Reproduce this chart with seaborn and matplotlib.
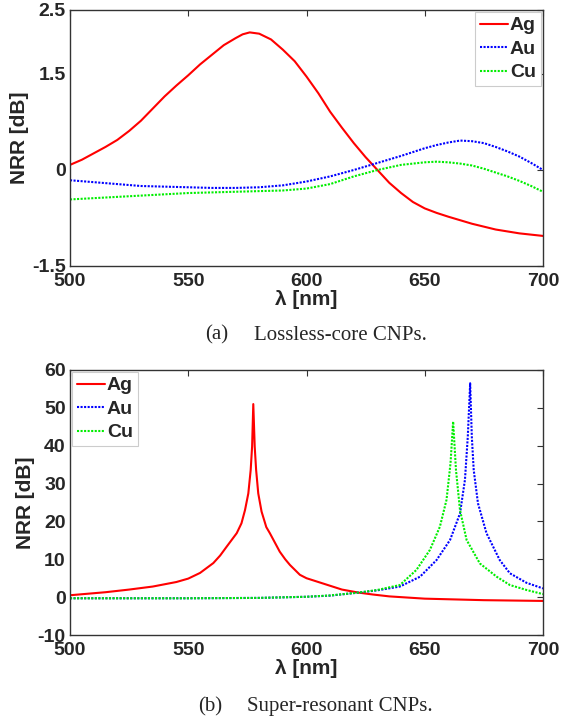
import numpy as np
import pandas as pd
import seaborn as sns
import matplotlib
matplotlib.use("Agg")
import matplotlib.pyplot as plt

# ---- (a) lossless-core CNPs ----
lam_ag_a = [500, 505, 510, 515, 520, 525, 530, 535, 540, 545, 550, 555, 560, 565,
            570, 573, 576, 580, 585, 590, 595, 600, 605, 610, 615, 620, 625, 630,
            635, 640, 645, 650, 655, 660, 670, 680, 690, 700]
ag_a = [0.08, 0.16, 0.26, 0.36, 0.47, 0.61, 0.77, 0.96, 1.15, 1.32, 1.48, 1.65,
        1.80, 1.95, 2.06, 2.12, 2.15, 2.13, 2.04, 1.88, 1.70, 1.46, 1.20, 0.91,
        0.66, 0.42, 0.20, 0.00, -0.20, -0.36, -0.50, -0.60, -0.67, -0.73, -0.84,
        -0.93, -0.99, -1.03]
lam_a = [500, 510, 520, 530, 540, 550, 560, 570, 580, 590, 600, 610, 620, 630,
         640, 650, 655, 660, 665, 670, 675, 680, 685, 690, 695, 700]
au_a = [-0.16, -0.19, -0.22, -0.25, -0.26, -0.27, -0.28, -0.28, -0.27, -0.24,
        -0.18, -0.10, 0.00, 0.11, 0.22, 0.34, 0.39, 0.43, 0.46, 0.45, 0.42, 0.36,
        0.29, 0.21, 0.11, 0.00]
cu_a = [-0.46, -0.44, -0.42, -0.40, -0.38, -0.36, -0.35, -0.34, -0.33, -0.32,
        -0.29, -0.22, -0.10, 0.00, 0.08, 0.12, 0.13, 0.12, 0.10, 0.07, 0.02,
        -0.04, -0.10, -0.17, -0.25, -0.34]

# ---- (b) super-resonant CNPs ----
lam_ag_b = [500, 515, 525, 535, 545, 550, 555, 560.6, 563.5, 566.2, 570.5, 572.5,
            574.0, 575.4, 576.4, 577.0, 577.5, 578.1, 578.7, 579.6, 581.0, 583.0,
            584.5, 588.7, 591, 593, 597.2, 600, 605, 610, 615, 622, 628, 635, 650,
            675, 700]
ag_b = [0.5, 1.3, 2.0, 2.8, 4.0, 4.9, 6.4, 9.0, 11.0, 13.3, 16.9, 19.5, 23.0,
        27.4, 33.6, 39.8, 51.0, 39.8, 33.6, 27.4, 22.6, 18.5, 16.9, 12.0, 10.0,
        8.5, 5.9, 5.0, 4.0, 3.0, 2.0, 1.2, 0.7, 0.2, -0.4, -0.8, -1.0]

lam_au_b = [500, 550, 580, 600, 610, 622, 630, 639.5, 648, 655, 660.7, 664.9,
            667.0, 668.2, 669.2, 669.9, 670.7, 672.5, 676.1, 681.7, 686, 693, 700]
au_b = [-0.3, -0.3, -0.2, 0.1, 0.4, 1.2, 1.8, 2.8, 5.4, 9.8, 15.1, 22.1, 31.0,
        42.4, 56.5, 42.4, 33.6, 24.8, 16.9, 9.8, 6.3, 3.8, 2.3]

lam_cu_b = [500, 550, 580, 600, 610, 622, 630, 639.5, 646.5, 652.2, 656.4, 659.2,
            660.9, 662.0, 663.2, 664.9, 667.7, 673.3, 680.4, 686, 693, 700]
cu_b = [-0.3, -0.3, -0.2, 0.1, 0.45, 1.2, 1.9, 3.2, 7.2, 12.5, 18.6, 25.7, 35.4,
        46.4, 33.6, 23.0, 15.1, 8.9, 5.4, 3.2, 1.9, 0.8]

metals = ["Ag", "Au", "Cu"]
colors = {"Ag": "#ff0000", "Au": "#0000ff", "Cu": "#00ee00"}
styles = {"Ag": "-", "Au": (0, (1, 0.7)), "Cu": (0, (1, 0.7))}

yticks_a = [-1.5, 0, 1.5, 2.5]
ytick_labels_a = ["-1.5", "0", "1.5", "2.5"]
yticks_b = [-10, 0, 10, 20, 30, 40, 50, 60]
xticks = [500, 550, 600, 650, 700]

sns.set_style("white")
plt.rcParams["font.family"] = ["Liberation Sans", "DejaVu Sans"]
plt.rcParams["font.weight"] = "bold"

W, H = 561, 718
fig = plt.figure(figsize=(W / 100, H / 100), dpi=100)
ax_a = fig.add_axes([70 / W, 1 - 266 / H, 473 / W, 256 / H])
ax_b = fig.add_axes([70 / W, 1 - 635 / H, 473 / W, 265 / H])

panel_a = {"Ag": (lam_ag_a, ag_a), "Au": (lam_a, au_a), "Cu": (lam_a, cu_a)}
panel_b = {"Ag": (lam_ag_b, ag_b), "Au": (lam_au_b, au_b), "Cu": (lam_cu_b, cu_b)}

for ax, panel in ((ax_a, panel_a), (ax_b, panel_b)):
    for m in metals:
        xs, ys = panel[m]
        df = pd.DataFrame({"lam": xs, "nrr": ys})
        sns.lineplot(data=df, x="lam", y="nrr", ax=ax, color=colors[m],
                     linestyle=styles[m], linewidth=1.5, label=m,
                     estimator=None, sort=False)

tick_font = dict(fontsize=14, fontweight="bold")
for ax in (ax_a, ax_b):
    ax.set_xlim(500, 700)
    ax.set_xticks(xticks)
    ax.set_xticklabels([str(t) for t in xticks], **tick_font)
    ax.tick_params(direction="in", length=4, width=0.8, top=True, right=True,
                   color="#333333")
    ax.tick_params(axis="x", pad=5)
    ax.tick_params(axis="y", pad=3)
    for s in ax.spines.values():
        s.set_color("#333333")
        s.set_linewidth(1.0)
    ax.set_xlabel("λ [nm]", fontsize=15, fontweight="bold", labelpad=0)
    ax.set_ylabel("NRR [dB]", fontsize=15, fontweight="bold", labelpad=2)

ax_a.set_ylim(-1.5, 2.5)
ax_a.set_yticks(yticks_a)
ax_a.set_yticklabels(ytick_labels_a, **tick_font)
ax_b.set_ylim(-10, 60)
ax_b.set_yticks(yticks_b)
ax_b.set_yticklabels([str(t) for t in yticks_b], **tick_font)

leg_kw = dict(frameon=True, fancybox=False, framealpha=1, edgecolor="#cccccc",
              prop={"weight": "bold", "size": 14}, handlelength=1.45,
              handletextpad=0.1, borderpad=0.25, labelspacing=0.3,
              borderaxespad=0)
leg_a = ax_a.legend(loc="upper right", bbox_to_anchor=(541 / W, 1 - 12 / H),
                    bbox_transform=fig.transFigure, **leg_kw)
leg_b = ax_b.legend(loc="upper left", bbox_to_anchor=(72 / W, 1 - 372 / H),
                    bbox_transform=fig.transFigure, **leg_kw)
for leg in (leg_a, leg_b):
    leg.get_frame().set_linewidth(0.8)
    for ln in leg.get_lines():
        ln.set_linewidth(1.5)

cap_font = dict(family=["Liberation Serif", "DejaVu Serif"], fontsize=15,
                fontweight="normal", va="center", ha="left")
fig.text(205 / W, 1 - 335 / H, "(a)", **cap_font)
fig.text(254 / W, 1 - 335 / H, "Lossless-core CNPs.", **cap_font)
fig.text(198 / W, 1 - 707 / H, "(b)", **cap_font)
fig.text(247 / W, 1 - 707 / H, "Super-resonant CNPs.", **cap_font)

fig.savefig("out.png", dpi=100)
